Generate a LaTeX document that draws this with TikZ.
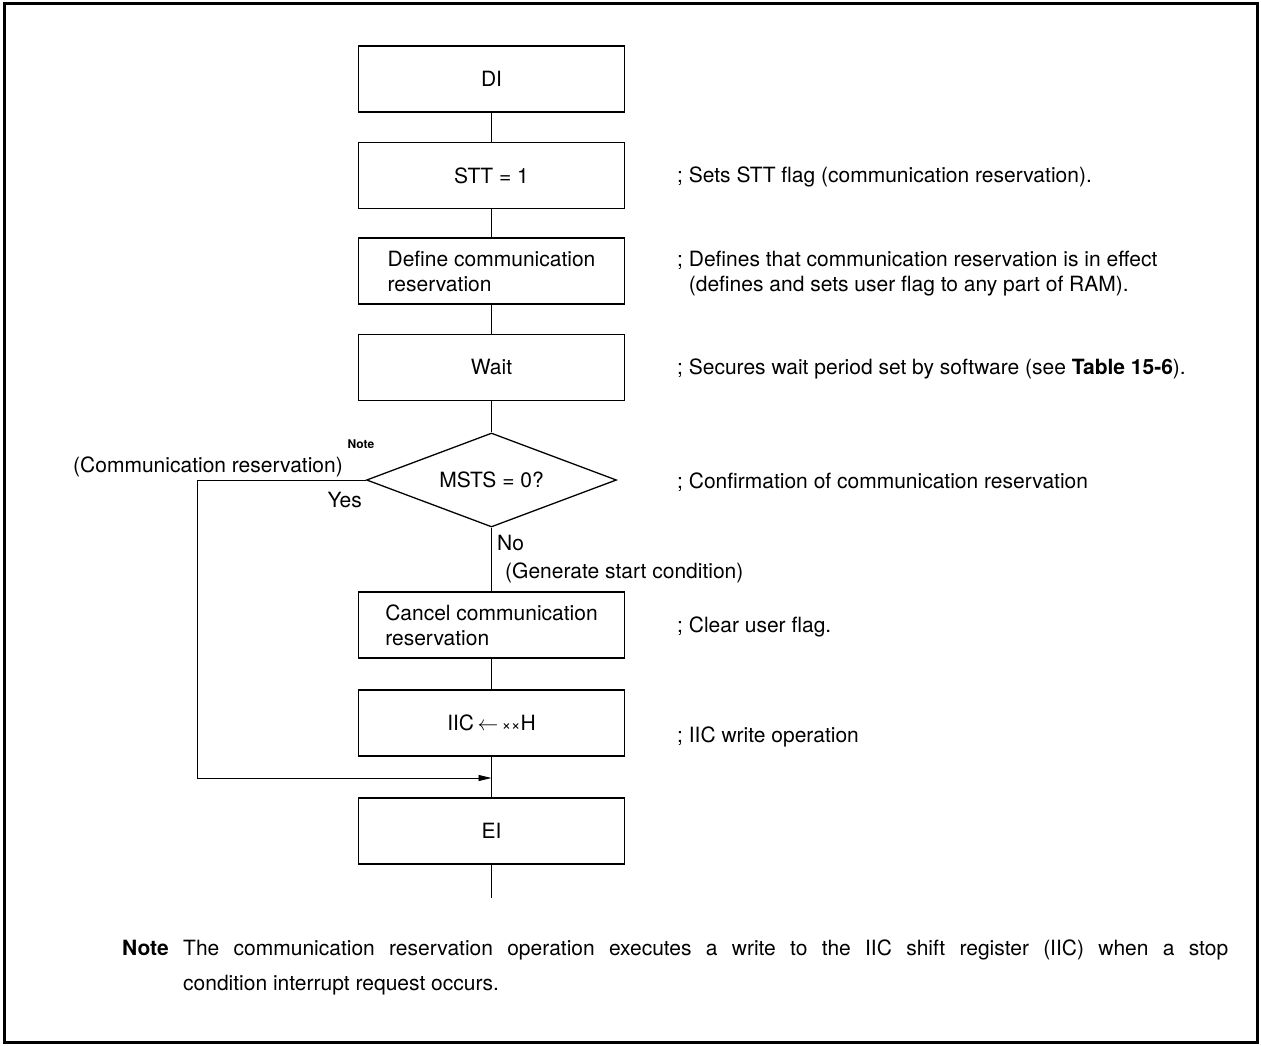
\documentclass[tikz,border=0pt]{standalone}
\usepackage{fontspec}
\setmainfont{TeX Gyre Heros}
\usetikzlibrary{shapes.geometric,arrows.meta}
\begin{document}
\begin{tikzpicture}[x=1pt,y=-1pt,
  every node/.style={font=\fontsize{21}{25}\selectfont, inner sep=0pt},
  procbox/.style={draw, line width=1.3pt, minimum width=266pt, minimum height=66pt, align=left},
  decbox/.style={draw, line width=1.3pt, diamond, aspect=2.66, minimum width=250pt, minimum height=94pt},
  link/.style={line width=0.9pt},
  ann/.style={anchor=west, align=left},
  supnote/.style={font=\fontsize{12}{12}\selectfont\bfseries},
]
\useasboundingbox (0,0) rectangle (1261,1046);
\draw[line width=3pt] (4,4) rectangle (1257,1042);

% flow nodes
\node[procbox] (di)   at (491.5,79)    {DI};
\node[procbox] (stt)  at (491.5,175.5) {STT = 1};
\node[procbox] (def)  at (491.5,271)   {Define communication\\reservation};
\node[procbox] (wait) at (491.5,367.5) {Wait};
\node[decbox]  (dec)  at (491.5,480)   {MSTS = 0?};
\node[procbox] (can)  at (491.5,625)   {Cancel communication\\reservation};
\node[procbox] (iic)  at (491.5,723)   {IIC\,$\leftarrow$\,{\fontsize{16}{16}\selectfont ××}H};
\node[procbox] (ei)   at (491.5,831)   {EI};
\coordinate (fin)   at (491.5,898);
\coordinate (merge) at (491.5,778);
\coordinate (lc1)   at (197,480);
\coordinate (lc2)   at (197,778);

% connectors
\draw[link] (di) -- (stt);
\draw[link] (stt) -- (def);
\draw[link] (def) -- (wait);
\draw[link] (wait) -- (dec);
\draw[link] (dec) -- (can);
\draw[link] (can) -- (iic);
\draw[link] (iic) -- (ei);
\draw[link] (ei) -- (fin);
\draw[link, -{Triangle[length=13pt,width=6pt]}] (dec.west) -- (lc1) -- (lc2) -- (merge);

% branch labels
\node[anchor=east] (commres) at (343,467) {(Communication reservation)};
\node[supnote] (notesup) at (361,444) {Note};
\node[anchor=east] (yes) at (362,500) {Yes};
\node[anchor=west] (no) at (497,543) {No};
\node[anchor=west] (gen) at (505,573) {(Generate start condition)};

% annotations
\node[ann] (a1) at (677,177) {; Sets STT flag (communication reservation).};
\node[ann] (a2) at (677,273.5) {; Defines that communication reservation is in effect\\\hphantom{;\ }(defines and sets user flag to any part of RAM).};
\node[ann] (a3) at (677,369) {; Secures wait period set by software (see \textbf{Table 15-6}).};
\node[ann] (a4) at (677,482) {; Confirmation of communication reservation};
\node[ann] (a5) at (677,627) {; Clear user flag.};
\node[ann] (a6) at (677,737) {; IIC write operation};

% bottom note
\node[anchor=base west, font=\fontsize{21}{25}\selectfont\bfseries] (notelbl) at (122,955) {Note};
\node[anchor=base west] (note1) at (183,955) {\makebox[1045pt][s]{The communication reservation operation executes a write to the IIC shift register (IIC) when a stop}};
\node[anchor=base west] (note2) at (183,990) {condition interrupt request occurs.};
\end{tikzpicture}
\end{document}
